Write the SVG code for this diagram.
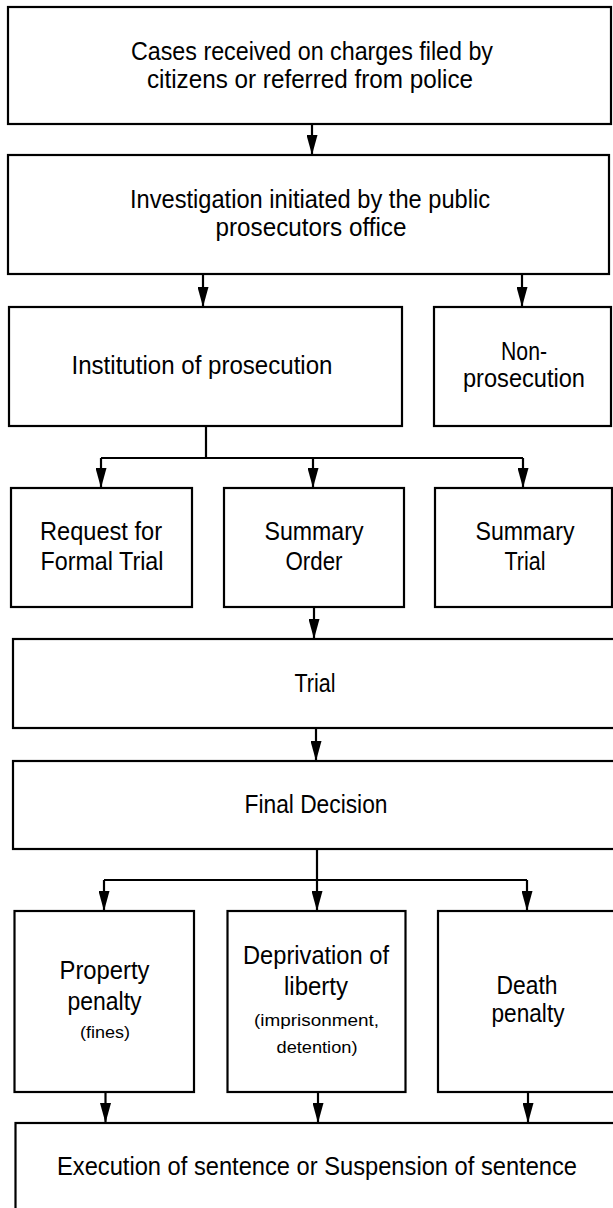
<svg xmlns="http://www.w3.org/2000/svg" width="613" height="1208" viewBox="0 0 613 1208">
<style>
.box{fill:#fff;stroke:#000;stroke-width:2.2}
.t{font-family:"Liberation Sans",Arial,sans-serif;font-size:25px;fill:#000;text-anchor:middle}
.s{font-size:17px}
.c{fill:none;stroke:#000;stroke-width:2.2}
</style>
<defs>
<marker id="ah" markerUnits="userSpaceOnUse" markerWidth="20" markerHeight="11" refX="20" refY="5.5" orient="auto" viewBox="0 0 20 11">
<path d="M0,0 L20,5.5 L0,11 z" fill="#000"/>
</marker>
</defs>
<rect width="613" height="1208" fill="#fff"/>
<g id="n1"><rect class="box" x="8" y="7" width="603" height="117"/>
<text class="t" x="312" y="60" textLength="362" lengthAdjust="spacingAndGlyphs">Cases received on charges filed by</text>
<text class="t" x="310" y="88" textLength="326" lengthAdjust="spacingAndGlyphs">citizens or referred from police</text></g>
<g id="n2"><rect class="box" x="8" y="155" width="601" height="119"/>
<text class="t" x="310" y="208" textLength="360" lengthAdjust="spacingAndGlyphs">Investigation initiated by the public</text>
<text class="t" x="311" y="236" textLength="191" lengthAdjust="spacingAndGlyphs">prosecutors office</text></g>
<g id="n3"><rect class="box" x="9" y="307" width="393" height="119"/>
<text class="t" x="202" y="374" textLength="261" lengthAdjust="spacingAndGlyphs">Institution of prosecution</text></g>
<g id="n4"><rect class="box" x="434" y="307" width="177" height="119"/>
<text class="t" x="524" y="360" textLength="46" lengthAdjust="spacingAndGlyphs">Non-</text>
<text class="t" x="524" y="387" textLength="122" lengthAdjust="spacingAndGlyphs">prosecution</text></g>
<g id="n5"><rect class="box" x="11" y="488" width="181" height="119"/>
<text class="t" x="101" y="540" textLength="122" lengthAdjust="spacingAndGlyphs">Request for</text>
<text class="t" x="102" y="570" textLength="123" lengthAdjust="spacingAndGlyphs">Formal Trial</text></g>
<g id="n6"><rect class="box" x="224" y="488" width="180" height="119"/>
<text class="t" x="314" y="540" textLength="99" lengthAdjust="spacingAndGlyphs">Summary</text>
<text class="t" x="314" y="570" textLength="57" lengthAdjust="spacingAndGlyphs">Order</text></g>
<g id="n7"><rect class="box" x="435" y="488" width="177" height="119"/>
<text class="t" x="525" y="540" textLength="99" lengthAdjust="spacingAndGlyphs">Summary</text>
<text class="t" x="525" y="570" textLength="41" lengthAdjust="spacingAndGlyphs">Trial</text></g>
<g id="n8"><rect class="box" x="13" y="639" width="620" height="89"/>
<text class="t" x="315" y="692" textLength="41" lengthAdjust="spacingAndGlyphs">Trial</text></g>
<g id="n9"><rect class="box" x="13" y="761" width="620" height="88"/>
<text class="t" x="316" y="813" textLength="143" lengthAdjust="spacingAndGlyphs">Final Decision</text></g>
<g id="n10"><rect class="box" x="14.5" y="911" width="179.5" height="181"/>
<text class="t" x="104.5" y="979" textLength="90" lengthAdjust="spacingAndGlyphs">Property</text>
<text class="t" x="104.5" y="1010" textLength="74" lengthAdjust="spacingAndGlyphs">penalty</text>
<text class="t s" x="105" y="1038" textLength="50" lengthAdjust="spacingAndGlyphs">(fines)</text></g>
<g id="n11"><rect class="box" x="227.5" y="911" width="178" height="181"/>
<text class="t" x="316" y="964" textLength="146" lengthAdjust="spacingAndGlyphs">Deprivation of</text>
<text class="t" x="316" y="995" textLength="64" lengthAdjust="spacingAndGlyphs">liberty</text>
<text class="t s" x="316.5" y="1026" textLength="125" lengthAdjust="spacingAndGlyphs">(imprisonment,</text>
<text class="t s" x="317" y="1053" textLength="81" lengthAdjust="spacingAndGlyphs">detention)</text></g>
<g id="n12"><rect class="box" x="438" y="911" width="200" height="181"/>
<text class="t" x="527" y="994" textLength="61" lengthAdjust="spacingAndGlyphs">Death</text>
<text class="t" x="528" y="1022" textLength="73" lengthAdjust="spacingAndGlyphs">penalty</text></g>
<g id="n13"><rect class="box" x="15.5" y="1123" width="620" height="120"/>
<text class="t" x="317" y="1175" textLength="520" lengthAdjust="spacingAndGlyphs">Execution of sentence or Suspension of sentence</text></g>
<g id="connectors" class="c">
<path class="c" d="M312,124 V155" marker-end="url(#ah)"/>
<path class="c" d="M203,274 V307" marker-end="url(#ah)"/>
<path class="c" d="M522,274 V307" marker-end="url(#ah)"/>
<path class="c" d="M206,426 V458 M101,458 H523"/>
<path class="c" d="M101,458 V488" marker-end="url(#ah)"/>
<path class="c" d="M313,458 V488" marker-end="url(#ah)"/>
<path class="c" d="M523,458 V488" marker-end="url(#ah)"/>
<path class="c" d="M314,607 V639" marker-end="url(#ah)"/>
<path class="c" d="M316,728 V761" marker-end="url(#ah)"/>
<path class="c" d="M317,849 V880 M104,880 H527"/>
<path class="c" d="M104,880 V911" marker-end="url(#ah)"/>
<path class="c" d="M317,880 V911" marker-end="url(#ah)"/>
<path class="c" d="M527,880 V911" marker-end="url(#ah)"/>
<path class="c" d="M105.5,1092 V1123" marker-end="url(#ah)"/>
<path class="c" d="M318,1092 V1123" marker-end="url(#ah)"/>
<path class="c" d="M528,1092 V1123" marker-end="url(#ah)"/>
</g>
</svg>
